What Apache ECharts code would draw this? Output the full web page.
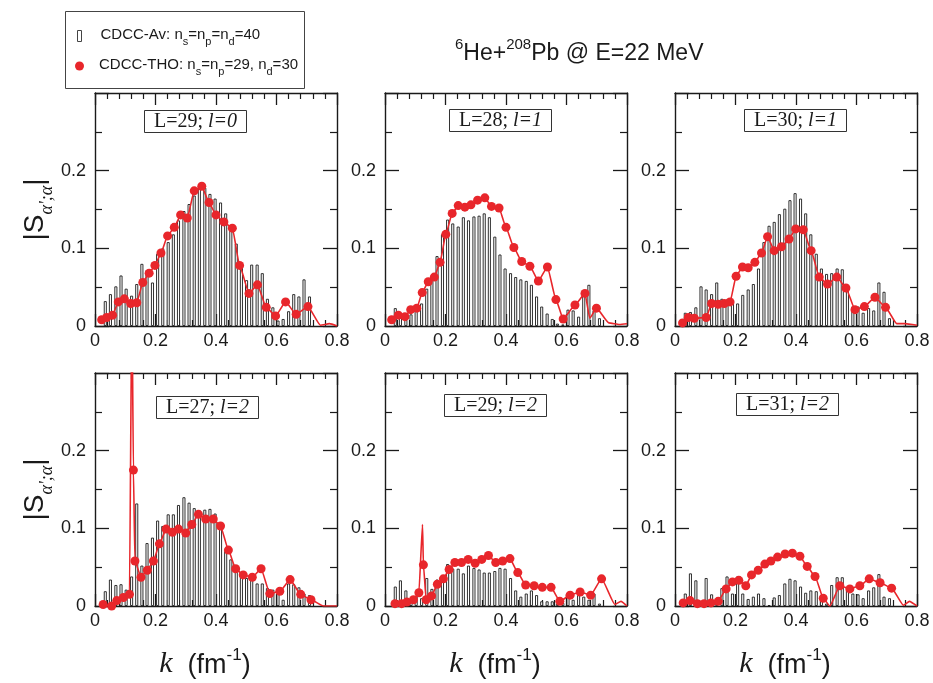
<!DOCTYPE html>
<html><head><meta charset="utf-8">
<script src="https://cdn.jsdelivr.net/npm/echarts@6/dist/echarts.min.js"></script>
<style>html,body{margin:0;padding:0;background:#fff}#c{width:933px;height:683px}</style>
</head><body><div id="c"></div>
<script>
// ---------- DATA ----------
const kBins = [0.034,0.051,0.069,0.086,0.103,0.121,0.138,0.155,0.172,0.190,0.207,0.224,0.242,0.259,0.276,0.294,0.311,0.328,0.345,0.363,0.380,0.397,0.415,0.432,0.449,0.467,0.484,0.501,0.518,0.536,0.553,0.570,0.588,0.605,0.622,0.640,0.657,0.674,0.691,0.709];

const avL29l0 = [0.032,0.041,0.051,0.065,0.048,0.039,0.054,0.080,0.072,0.056,0.093,0.100,0.108,0.118,0.136,0.148,0.157,0.168,0.180,0.178,0.170,0.164,0.159,0.145,0.127,0.106,0.078,0.059,0.079,0.079,0.068,0.035,0.024,0.007,0.009,0.019,0.041,0.038,0.060,0.038];
const avL28l1 = [0.023,0.012,0.008,0.015,0.022,0.029,0.048,0.062,0.090,0.118,0.137,0.132,0.128,0.140,0.136,0.141,0.142,0.145,0.140,0.115,0.092,0.074,0.068,0.063,0.060,0.058,0.053,0.038,0.025,0.016,0.009,0.003,0.002,0.021,0.020,0.012,0.045,0.053,0.020,0.010];
const avL30l1 = [0.017,0.018,0.024,0.051,0.047,0.041,0.056,0.035,0.034,0.032,0.029,0.040,0.047,0.054,0.074,0.108,0.129,0.134,0.144,0.151,0.162,0.171,0.164,0.145,0.118,0.093,0.074,0.067,0.068,0.074,0.073,0.053,0.025,0.025,0.017,0.023,0.020,0.056,0.044,0.010];
const avL27l2 = [0.019,0.034,0.027,0.028,0.021,0.038,0.132,0.052,0.081,0.088,0.110,0.103,0.118,0.118,0.130,0.140,0.133,0.126,0.123,0.124,0.125,0.119,0.099,0.071,0.060,0.047,0.042,0.036,0.038,0.029,0.029,0.023,0.021,0.020,0.008,0.029,0.028,0.024,0.016,0.014];
const avL29l2 = [0.025,0.033,0.020,0.008,0.012,0.010,0.036,0.022,0.034,0.038,0.054,0.048,0.048,0.042,0.052,0.049,0.047,0.043,0.043,0.045,0.049,0.048,0.036,0.020,0.012,0.016,0.020,0.014,0.006,0.006,0.006,0.003,0.004,0.016,0.008,0.014,0.012,0.008,0.016,0.003];
const avL31l2 = [0.016,0.042,0.033,0.006,0.036,0.015,0.007,0.023,0.038,0.016,0.038,0.016,0.009,0.012,0.016,0.010,0.001,0.011,0.014,0.029,0.035,0.033,0.025,0.017,0.020,0.019,0.007,0.003,0.027,0.037,0.037,0.020,0.016,0.015,0.010,0.020,0.024,0.041,0.012,0.010];

// CDCC-THO points with markers [k, |S|]
const thoL29l0 = [[0.022,0.008],[0.039,0.011],[0.058,0.014],[0.077,0.031],[0.097,0.035],[0.118,0.029],[0.138,0.030],[0.158,0.056],[0.179,0.068],[0.198,0.078],[0.218,0.094],[0.240,0.116],[0.262,0.127],[0.283,0.143],[0.305,0.139],[0.328,0.174],[0.353,0.180],[0.377,0.159],[0.400,0.143],[0.426,0.134],[0.454,0.126],[0.478,0.078],[0.509,0.042],[0.537,0.053],[0.566,0.024],[0.597,0.013],[0.630,0.031],[0.665,0.015],[0.704,0.025]];
const thoL28l1 = [[0.022,0.008],[0.044,0.014],[0.066,0.012],[0.085,0.021],[0.105,0.023],[0.123,0.043],[0.143,0.057],[0.163,0.063],[0.182,0.082],[0.201,0.118],[0.222,0.145],[0.242,0.155],[0.264,0.153],[0.284,0.156],[0.306,0.162],[0.330,0.165],[0.352,0.154],[0.377,0.152],[0.400,0.127],[0.426,0.101],[0.452,0.083],[0.479,0.077],[0.507,0.058],[0.537,0.076],[0.565,0.034],[0.589,0.009],[0.628,0.027],[0.661,0.042],[0.699,0.023]];
const thoL30l1 = [[0.025,0.004],[0.044,0.011],[0.064,0.010],[0.103,0.011],[0.121,0.029],[0.143,0.028],[0.163,0.029],[0.182,0.031],[0.202,0.064],[0.223,0.076],[0.242,0.075],[0.264,0.082],[0.286,0.094],[0.306,0.115],[0.328,0.097],[0.352,0.102],[0.377,0.112],[0.399,0.125],[0.424,0.124],[0.450,0.097],[0.477,0.063],[0.504,0.054],[0.535,0.063],[0.565,0.049],[0.595,0.021],[0.626,0.025],[0.661,0.037],[0.696,0.024]];
const thoL27l2 = [[0.027,0.002],[0.055,0.000],[0.072,0.007],[0.094,0.011],[0.114,0.015],[0.127,0.175],[0.132,0.058],[0.152,0.037],[0.173,0.046],[0.193,0.058],[0.213,0.080],[0.235,0.099],[0.256,0.095],[0.276,0.099],[0.300,0.094],[0.320,0.105],[0.342,0.118],[0.366,0.112],[0.391,0.112],[0.415,0.103],[0.441,0.072],[0.465,0.048],[0.490,0.040],[0.520,0.037],[0.549,0.048],[0.578,0.016],[0.611,0.019],[0.645,0.034],[0.680,0.015],[0.714,0.008]];
const thoL29l2 = [[0.033,0.003],[0.055,0.003],[0.072,0.005],[0.094,0.008],[0.112,0.017],[0.127,0.053],[0.136,0.008],[0.154,0.013],[0.173,0.028],[0.193,0.035],[0.212,0.047],[0.231,0.056],[0.253,0.056],[0.275,0.060],[0.298,0.055],[0.320,0.060],[0.342,0.065],[0.366,0.056],[0.389,0.058],[0.413,0.061],[0.439,0.043],[0.465,0.027],[0.493,0.026],[0.520,0.024],[0.549,0.024],[0.578,0.006],[0.612,0.014],[0.645,0.018],[0.680,0.014],[0.716,0.035]];
const thoL31l2 = [[0.027,0.004],[0.050,0.007],[0.074,0.003],[0.096,0.003],[0.119,0.004],[0.143,0.006],[0.169,0.022],[0.190,0.031],[0.211,0.033],[0.234,0.026],[0.253,0.040],[0.275,0.046],[0.297,0.054],[0.317,0.058],[0.339,0.063],[0.364,0.067],[0.388,0.068],[0.413,0.064],[0.437,0.051],[0.463,0.038],[0.490,0.010],[0.545,0.026],[0.578,0.022],[0.611,0.026],[0.642,0.035],[0.678,0.030],[0.716,0.023]];

// CDCC-THO curve points drawn without markers [k, |S|]
const curveL29l0 = [[0.745,0.001],[0.775,0.003],[0.800,0.000]];
const curveL28l1 = [[0.677,0.010],[0.740,0.004],[0.775,0.002],[0.800,0.003]];
const curveL30l1 = [[0.733,0.003],[0.760,0.003],[0.800,0.001]];
const curveL27l2 = [[0.122,0.400],[0.755,0.000],[0.800,0.000]];
const curveL29l2 = [[0.124,0.105],[0.760,0.002],[0.780,0.006],[0.800,0.000]];
const curveL31l2 = [[0.512,0.000],[0.755,0.001],[0.775,0.006],[0.800,0.000]];

const panelL = ['29','28','30','27','29','31'];
const panelSmallL = ['0','1','1','2','2','2'];
const xTickLabels = ['0','0.2','0.4','0.6','0.8'];
const yTickLabels = ['0','0.1','0.2'];

// ---------- LAYOUT ----------
const RED = '#e8262b';
const INK = '#1a1a1a';
const SANS = 'Liberation Sans, Arial, sans-serif';
const SERIF = 'Liberation Serif, Times New Roman, serif';
const colLeft = [95, 385, 675];
const rowTop = [93, 373];
const PW = 242, PH = 233;
const labelBox = [[144,110],[449,109],[744,109],[156,396],[444,394],[736,393]];

const panels = [
  {av: avL29l0, tho: thoL29l0, curve: curveL29l0},
  {av: avL28l1, tho: thoL28l1, curve: curveL28l1},
  {av: avL30l1, tho: thoL30l1, curve: curveL30l1},
  {av: avL27l2, tho: thoL27l2, curve: curveL27l2},
  {av: avL29l2, tho: thoL29l2, curve: curveL29l2},
  {av: avL31l2, tho: thoL31l2, curve: curveL31l2}
];

const grids = [], xAxes = [], yAxes = [], series = [], titles = [];
const axisLineStyle = {color: INK, width: 1.4};

panels.forEach((p, i) => {
  const col = i % 3, row = Math.floor(i / 3);
  grids.push({left: colLeft[col], top: rowTop[row], width: PW, height: PH, containLabel: false, outerBoundsMode: 'none'});
  ['bottom','top'].forEach(pos => {
    xAxes.push({
      type: 'value', gridIndex: i, position: pos, min: 0, max: 0.8, interval: 0.2,
      axisLine: {show: true, onZero: false, lineStyle: axisLineStyle},
      axisTick: {show: true, inside: true, length: 12, lineStyle: {color: INK, width: 1.3}},
      minorTick: {show: true, splitNumber: 5, length: 6, lineStyle: {color: INK, width: 1.2}},
      splitLine: {show: false}, minorSplitLine: {show: false},
      axisLabel: {show: pos === 'bottom', margin: 6, fontSize: 18, fontFamily: SANS, color: INK,
        showMinLabel: true, showMaxLabel: true, hideOverlap: false,
        formatter: v => xTickLabels[Math.round(v / 0.2)] || ''},
      name: (pos === 'bottom' && row === 1) ? '{k|k}{t|  (fm}{s|-1}{t|)}{e|}' : '',
      nameLocation: 'middle', nameGap: 41,
      nameTextStyle: {rich: {
        k: {fontFamily: SERIF, fontStyle: 'italic', fontSize: 30, color: INK, lineHeight: 32, verticalAlign: 'bottom'},
        t: {fontFamily: SANS, fontSize: 27, color: INK, lineHeight: 32, verticalAlign: 'bottom'},
        s: {fontFamily: SANS, fontSize: 17, color: INK, lineHeight: 16, verticalAlign: 'top'},
        e: {width: 22}
      }}
    });
  });
  ['left','right'].forEach(pos => {
    yAxes.push({
      type: 'value', gridIndex: i, position: pos, min: 0, max: 0.3, interval: 0.1,
      axisLine: {show: true, onZero: false, lineStyle: axisLineStyle},
      axisTick: {show: true, inside: true, length: 14, lineStyle: {color: INK, width: 1.3}},
      minorTick: {show: true, splitNumber: 2, length: 7, lineStyle: {color: INK, width: 1.2}},
      splitLine: {show: false}, minorSplitLine: {show: false},
      axisLabel: {show: pos === 'left', margin: 9, fontSize: 18, fontFamily: SANS, color: INK,
        showMaxLabel: true, hideOverlap: false,
        formatter: v => yTickLabels[Math.round(v / 0.1)] || ''},
      name: (pos === 'left' && col === 0) ? '{b||S}{a|α\';α}{b||}' : '',
      nameLocation: 'middle', nameGap: 46, nameRotate: 90,
      nameTextStyle: {rich: {
        b: {fontFamily: SANS, fontSize: 28, color: INK, lineHeight: 28, verticalAlign: 'top'},
        a: {fontFamily: SERIF, fontStyle: 'italic', fontSize: 18, color: INK, lineHeight: 15, padding: [17,0,0,0], verticalAlign: 'top'}
      }}
    });
  });
  series.push({
    type: 'bar', name: 'CDCC-Av', xAxisIndex: 2 * i, yAxisIndex: 2 * i,
    data: kBins.map((k, j) => [k, p.av[j]]),
    barWidth: 3, barGap: '0%',
    itemStyle: {color: '#ffffff', borderColor: INK, borderWidth: 0.9},
    emphasis: {disabled: true}, animation: false, silent: true
  });
  const pts = p.tho.map(d => ({value: d}))
    .concat(p.curve.map(d => ({value: d, symbol: 'none'})))
    .sort((a, b) => a.value[0] - b.value[0]);
  series.push({
    type: 'line', name: 'CDCC-THO', xAxisIndex: 2 * i, yAxisIndex: 2 * i,
    data: pts, symbol: 'circle', symbolSize: 9, showSymbol: true, showAllSymbol: true,
    smooth: 0.15, smoothMonotone: 'x', clip: true,
    lineStyle: {color: RED, width: 1.6}, itemStyle: {color: RED},
    emphasis: {disabled: true}, animation: false, silent: true
  });
  titles.push({
    text: '{a|L=' + panelL[i] + '; }{b|l=' + panelSmallL[i] + '}',
    left: labelBox[i][0], top: labelBox[i][1],
    padding: [1, 10, 1, 10], borderColor: '#333', borderWidth: 1, backgroundColor: '#fff',
    textStyle: {fontWeight: 'normal', rich: {
      a: {fontFamily: SERIF, fontWeight: 'normal', fontSize: 20, color: INK, lineHeight: 21},
      b: {fontFamily: SERIF, fontWeight: 'normal', fontStyle: 'italic', fontSize: 20, color: INK, lineHeight: 21}
    }}
  });
});

titles.push({
  text: '{s|6}{t|He+}{s|208}{t|Pb @ E=22 MeV}',
  left: 455, top: 37, padding: 0,
  textStyle: {fontWeight: 'normal', rich: {
    t: {fontFamily: SANS, fontWeight: 'normal', fontSize: 23, color: INK, lineHeight: 28, verticalAlign: 'bottom'},
    s: {fontFamily: SANS, fontWeight: 'normal', fontSize: 15, color: INK, lineHeight: 15, verticalAlign: 'top'}
  }}
});

const legRich = {
  sp: {width: 14},
  t: {fontFamily: SANS, fontSize: 15, color: INK, lineHeight: 18, verticalAlign: 'top'},
  s: {fontFamily: SANS, fontSize: 11, color: INK, lineHeight: 12, padding: [9, 0, 0, 0], verticalAlign: 'top'}
};

const option = {
  animation: false,
  backgroundColor: '#fff',
  grid: grids, xAxis: xAxes, yAxis: yAxes, series: series, title: titles,
  legend: [
    {data: [{name: 'CDCC-Av', icon: 'rect'}], left: 77, top: 27, itemWidth: 4, itemHeight: 11, padding: 0,
     selectedMode: false, itemStyle: {color: '#fff', borderColor: '#444', borderWidth: 1},
     formatter: () => '{sp|}{t|CDCC-Av: n}{s|s}{t|=n}{s|p}{t|=n}{s|d}{t|=40}',
     textStyle: {rich: legRich}},
    {data: [{name: 'CDCC-THO', icon: 'circle'}], left: 75, top: 57, itemWidth: 9, itemHeight: 9, padding: 0,
     selectedMode: false, itemStyle: {color: RED, borderWidth: 0},
     formatter: () => '{sp|}{t|CDCC-THO: n}{s|s}{t|=n}{s|p}{t|=29, n}{s|d}{t|=30}',
     textStyle: {rich: Object.assign({}, legRich, {sp: {width: 10}})}}
  ],
  graphic: [{
    type: 'rect', left: 63, top: 9, shape: {x: 0, y: 0, width: 239, height: 77},
    style: {fill: 'none', stroke: '#444', lineWidth: 1}, silent: true, z: 100
  }]
};

const chart = echarts.init(document.getElementById('c'), null, {renderer: 'canvas'});
chart.setOption(option);
</script></body></html>
